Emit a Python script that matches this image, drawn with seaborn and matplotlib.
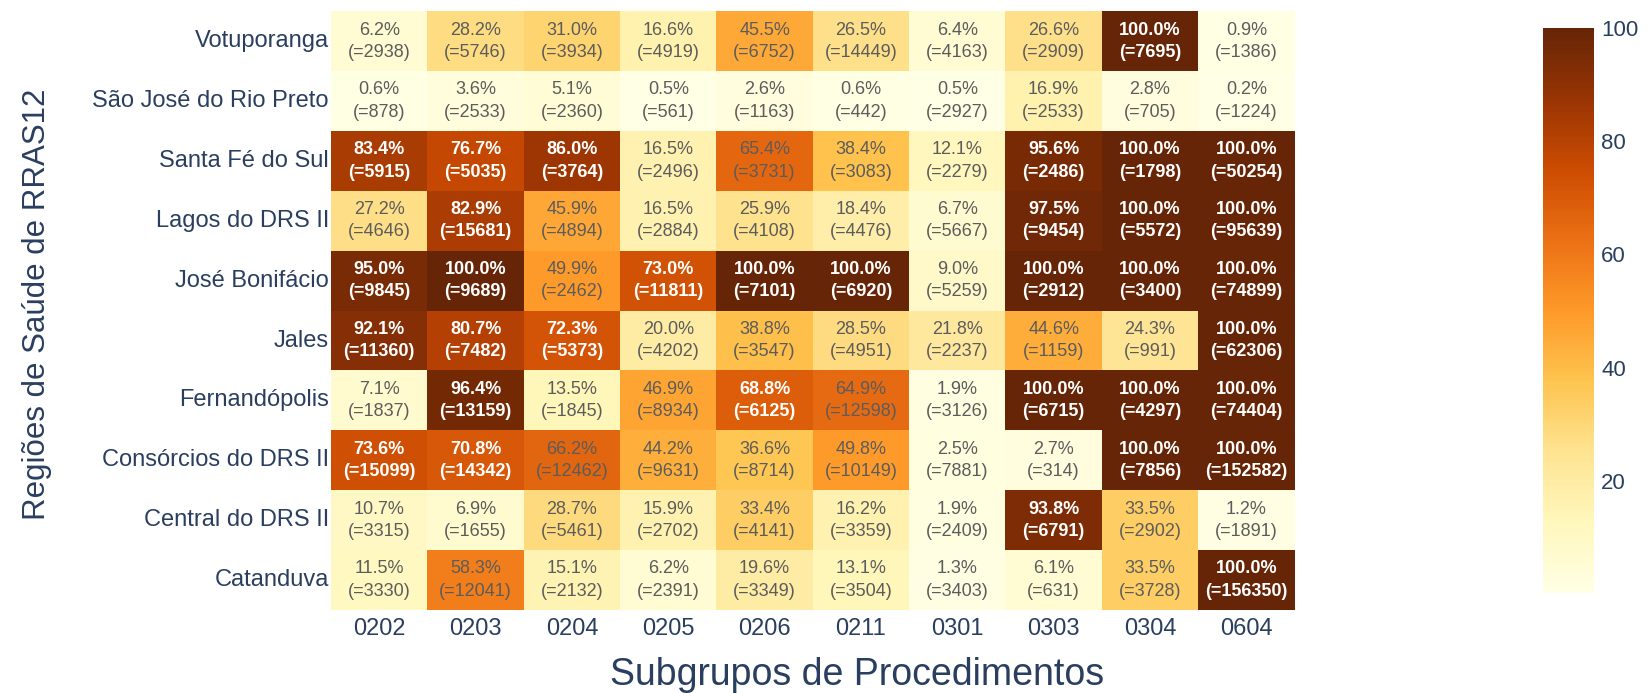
import matplotlib
matplotlib.use("Agg")
import matplotlib.pyplot as plt
import numpy as np
import pandas as pd
import seaborn as sns

sns.set_theme(style="white")
plt.rcParams["font.family"] = ["Liberation Sans", "DejaVu Sans"]

# ── Data ───────────────────────────────────────────────────────────────────
SUBGRUPOS = ["0202", "0203", "0204", "0205", "0206", "0211", "0301", "0303", "0304", "0604"]
REGIOES = [
    "Votuporanga", "São José do Rio Preto", "Santa Fé do Sul", "Lagos do DRS II",
    "José Bonifácio", "Jales", "Fernandópolis", "Consórcios do DRS II",
    "Central do DRS II", "Catanduva",
]

PCT_VOTUPORANGA = [6.2, 28.2, 31.0, 16.6, 45.5, 26.5, 6.4, 26.6, 100.0, 0.9]
PCT_SJRP        = [0.6, 3.6, 5.1, 0.5, 2.6, 0.6, 0.5, 16.9, 2.8, 0.2]
PCT_SANTA_FE    = [83.4, 76.7, 86.0, 16.5, 65.4, 38.4, 12.1, 95.6, 100.0, 100.0]
PCT_LAGOS       = [27.2, 82.9, 45.9, 16.5, 25.9, 18.4, 6.7, 97.5, 100.0, 100.0]
PCT_JOSE_BONIF  = [95.0, 100.0, 49.9, 73.0, 100.0, 100.0, 9.0, 100.0, 100.0, 100.0]
PCT_JALES       = [92.1, 80.7, 72.3, 20.0, 38.8, 28.5, 21.8, 44.6, 24.3, 100.0]
PCT_FERNAND     = [7.1, 96.4, 13.5, 46.9, 68.8, 64.9, 1.9, 100.0, 100.0, 100.0]
PCT_CONSORCIOS  = [73.6, 70.8, 66.2, 44.2, 36.6, 49.8, 2.5, 2.7, 100.0, 100.0]
PCT_CENTRAL     = [10.7, 6.9, 28.7, 15.9, 33.4, 16.2, 1.9, 93.8, 33.5, 1.2]
PCT_CATANDUVA   = [11.5, 58.3, 15.1, 6.2, 19.6, 13.1, 1.3, 6.1, 33.5, 100.0]

N_VOTUPORANGA = [2938, 5746, 3934, 4919, 6752, 14449, 4163, 2909, 7695, 1386]
N_SJRP        = [878, 2533, 2360, 561, 1163, 442, 2927, 2533, 705, 1224]
N_SANTA_FE    = [5915, 5035, 3764, 2496, 3731, 3083, 2279, 2486, 1798, 50254]
N_LAGOS       = [4646, 15681, 4894, 2884, 4108, 4476, 5667, 9454, 5572, 95639]
N_JOSE_BONIF  = [9845, 9689, 2462, 11811, 7101, 6920, 5259, 2912, 3400, 74899]
N_JALES       = [11360, 7482, 5373, 4202, 3547, 4951, 2237, 1159, 991, 62306]
N_FERNAND     = [1837, 13159, 1845, 8934, 6125, 12598, 3126, 6715, 4297, 74404]
N_CONSORCIOS  = [15099, 14342, 12462, 9631, 8714, 10149, 7881, 314, 7856, 152582]
N_CENTRAL     = [3315, 1655, 5461, 2702, 4141, 3359, 2409, 6791, 2902, 1891]
N_CATANDUVA   = [3330, 12041, 2132, 2391, 3349, 3504, 3403, 631, 3728, 156350]

pct = pd.DataFrame(
    [PCT_VOTUPORANGA, PCT_SJRP, PCT_SANTA_FE, PCT_LAGOS, PCT_JOSE_BONIF,
     PCT_JALES, PCT_FERNAND, PCT_CONSORCIOS, PCT_CENTRAL, PCT_CATANDUVA],
    index=REGIOES, columns=SUBGRUPOS,
)
counts = pd.DataFrame(
    [N_VOTUPORANGA, N_SJRP, N_SANTA_FE, N_LAGOS, N_JOSE_BONIF,
     N_JALES, N_FERNAND, N_CONSORCIOS, N_CENTRAL, N_CATANDUVA],
    index=REGIOES, columns=SUBGRUPOS,
)
labels = pct.map(lambda v: f"{v:.1f}%") + "\n(=" + counts.astype(str) + ")"

# ── Figure ─────────────────────────────────────────────────────────────────
TICK_COLOR = "#2a3f5f"
fig = plt.figure(figsize=(16.47, 6.93), dpi=100)
ax = fig.add_axes([0.201, 0.1198, 0.585, 0.864])
cax = fig.add_axes([0.937, 0.1443, 0.031, 0.8153])

sns.heatmap(
    pct, ax=ax, cbar_ax=cax, cmap="YlOrBr", vmin=pct.values.min(), vmax=100,
    annot=labels.values, fmt="", linewidths=0,
    annot_kws={"fontsize": 13, "linespacing": 1.4},
)

# text colour per cell: white/bold on dark cells, grey on light ones
for txt, val in zip(ax.texts, pct.values.ravel()):
    if val > 67:
        txt.set_color("white")
        txt.set_fontweight("bold")
    else:
        txt.set_color("#5c5c5c")

ax.set_xlabel("Subgrupos de Procedimentos", fontsize=27, color=TICK_COLOR)
ax.xaxis.label.set_va("baseline")
ax.xaxis.set_label_coords(0.546, -0.1255)
ax.set_ylabel("Regiões de Saúde de RRAS12", fontsize=22.5, color=TICK_COLOR)
ax.yaxis.label.set_va("center")
ax.yaxis.set_label_coords(-0.305, 0.51)

ax.tick_params(axis="both", length=0, colors=TICK_COLOR, labelsize=17)
ax.tick_params(axis="x", pad=6)
ax.tick_params(axis="y", pad=1.5)
plt.setp(ax.get_yticklabels(), rotation=0)
plt.setp(ax.get_xticklabels(), rotation=0)

cbar = ax.collections[0].colorbar
cbar.set_ticks([20, 40, 60, 80, 100])
cbar.outline.set_visible(False)
cax.tick_params(length=0, colors=TICK_COLOR, labelsize=16, pad=5)

fig.savefig("out.png", dpi=100)
